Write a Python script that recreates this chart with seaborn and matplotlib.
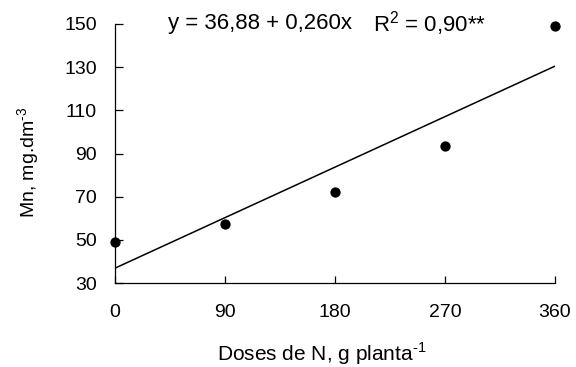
import numpy as np
import pandas as pd
import matplotlib
matplotlib.use("Agg")
import matplotlib.pyplot as plt
import seaborn as sns

# Mn content versus N dose
doses = [0, 90, 180, 270, 360]
mn = [48.8, 57.4, 72.3, 93.4, 149.1]

# fitted linear model
intercept = 36.88
slope = 0.260
r2_label = "0,90**"

x_ticks = [0, 90, 180, 270, 360]
y_ticks = [30, 50, 70, 90, 110, 130, 150]

sns.set_theme(style="white")
plt.rcParams["font.family"] = ["Liberation Sans", "DejaVu Sans"]
plt.rcParams["mathtext.fontset"] = "custom"
plt.rcParams["mathtext.rm"] = "Liberation Sans"

fig = plt.figure(figsize=(5.76, 3.67), dpi=100)
ax = fig.add_axes([115 / 576, 1 - 283 / 367, 440 / 576, 259 / 367])

df = pd.DataFrame({"dose": doses, "mn": mn})
fit = pd.DataFrame({"dose": [x_ticks[0], x_ticks[-1]]})
fit["mn"] = intercept + slope * fit["dose"]

sns.lineplot(data=fit, x="dose", y="mn", color="black", linewidth=1.1, ax=ax)
sns.scatterplot(data=df, x="dose", y="mn", color="black", s=55, edgecolor="black",
                linewidth=0, ax=ax, clip_on=False, zorder=5)

ax.set_xlim(0, 360)
ax.set_ylim(30, 150)
ax.set_xticks(x_ticks)
ax.set_yticks(y_ticks)
ax.set_xticklabels([str(v) for v in x_ticks])
ax.set_yticklabels([str(v) for v in y_ticks])

for side in ("top", "right"):
    ax.spines[side].set_visible(False)
for side in ("left", "bottom"):
    ax.spines[side].set_color("black")
    ax.spines[side].set_linewidth(0.9)

ax.tick_params(axis="y", direction="in", length=6, width=0.9, colors="black",
               labelsize=14, pad=13, left=True)
ax.tick_params(axis="x", direction="in", length=5, width=0.9, colors="black",
               labelsize=14, pad=15, bottom=True)

ax.set_xlabel(r"Doses de N, g planta$^{\text{-1}}$", fontsize=15, color="black")
ax.set_ylabel(r"Mn, mg.dm$^{\text{-3}}$", fontsize=14, color="black")
ax.xaxis.set_label_coords(0.47, -0.222)
ax.yaxis.set_label_coords(-0.165, 0.467)

fig.text(168 / 576, 1 - 24 / 367, "y = 36,88 + 0,260x", fontsize=16,
         ha="left", va="center", color="black")
fig.text(373 / 576, 1 - 24 / 367, r"R$^{\mathregular{2}}$ = " + r2_label,
         fontsize=16, ha="left", va="center", color="black")

fig.savefig("out.png", dpi=100)
